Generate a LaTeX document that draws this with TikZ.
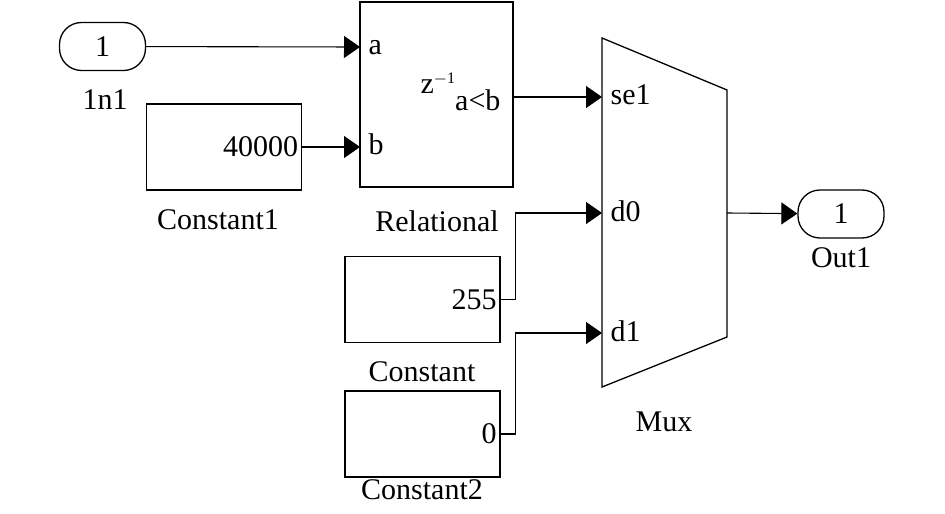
\documentclass[tikz,border=0pt]{standalone}
\usepackage{fontspec}
\setmainfont{Liberation Serif}
\usetikzlibrary{arrows.meta}

\begin{document}
\begin{tikzpicture}[x=0.5pt, y=-0.5pt,
    font=\fontsize{15}{18}\selectfont,
    line width=0.65pt,
    bloque/.style={draw, rectangle, inner sep=1.5pt},
    constante/.style={bloque, minimum width=77.5pt, minimum height=43pt, text width=74pt, align=right},
    puerto/.style={draw, rectangle, rounded corners=11pt, minimum width=43pt, minimum height=24pt},
    entrada/.style={anchor=base west, inner sep=0pt, xshift=4pt, yshift=-4pt},
    flecha/.style={-{Triangle[length=8pt, width=11pt]}, line width=0.55pt}]
    \useasboundingbox (0,0) rectangle (945,513);

    % Nodos principales
    \node (in1) [puerto] at (102.5,46.5) {1};
    \node (const1) [constante] at (224,147) {40000};
    \node (rel) [bloque, minimum width=76.5pt, minimum height=92.5pt] at (436.5,94.5) {};
    \node (const) [constante] at (422.5,299.5) {255};
    \node (const2) [constante] at (422.5,434) {0};
    \node (out1) [puerto] at (841,214) {1};

    % Multiplexor (trapecio)
    \coordinate (muxTL) at (602,38);
    \coordinate (muxTR) at (727,90);
    \coordinate (muxBR) at (727,337);
    \coordinate (muxBL) at (602,387);
    \draw (muxTL) -- (muxTR) -- (muxBR) -- (muxBL) -- cycle;

    % Puertos
    \coordinate (rela) at (360,47);
    \coordinate (relb) at (360,147);
    \coordinate (relout) at (513,97);
    \coordinate (muxsel) at (602,97);
    \coordinate (muxd0) at (602,213);
    \coordinate (muxd1) at (602,333);
    \coordinate (muxout) at (727,213);

    \node (lbla) [entrada] at (rela) {a};
    \node (lblb) [entrada] at (relb) {b};
    \node (lblsel) [entrada] at (muxsel) {se1};
    \node (lbld0) [entrada] at (muxd0) {d0};
    \node (lbld1) [entrada] at (muxd1) {d1};
    \node (relfn) [anchor=base west, inner sep=0pt] at (420,94)
        {z\raisebox{5pt}{\fontsize{8}{8}\selectfont$-$1}\raisebox{-8.5pt}{a<b}};

    % Nombres de los bloques
    \node (nin1) at (105,100) {1n1};
    \node (nconst1) at (218,220) {Constant1};
    \node (nrel) at (437,221) {Relational};
    \node (nconst) at (422,372) {Constant};
    \node (nconst2) at (422,490) {Constant2};
    \node (nmux) at (664,422) {Mux};
    \node (nout1) at (841,258) {Out1};

    % Flechas de conexión
    \draw[flecha] (in1) -- (rela);
    \draw[flecha] (const1) -- (relb);
    \draw[flecha] (relout) -- (muxsel);
    \draw[flecha] (const.east) -- ++(15,0) |- (muxd0);
    \draw[flecha] (const2.east) -- ++(15,0) |- (muxd1);
    \draw[flecha] (muxout) -- (out1);
\end{tikzpicture}
\end{document}
